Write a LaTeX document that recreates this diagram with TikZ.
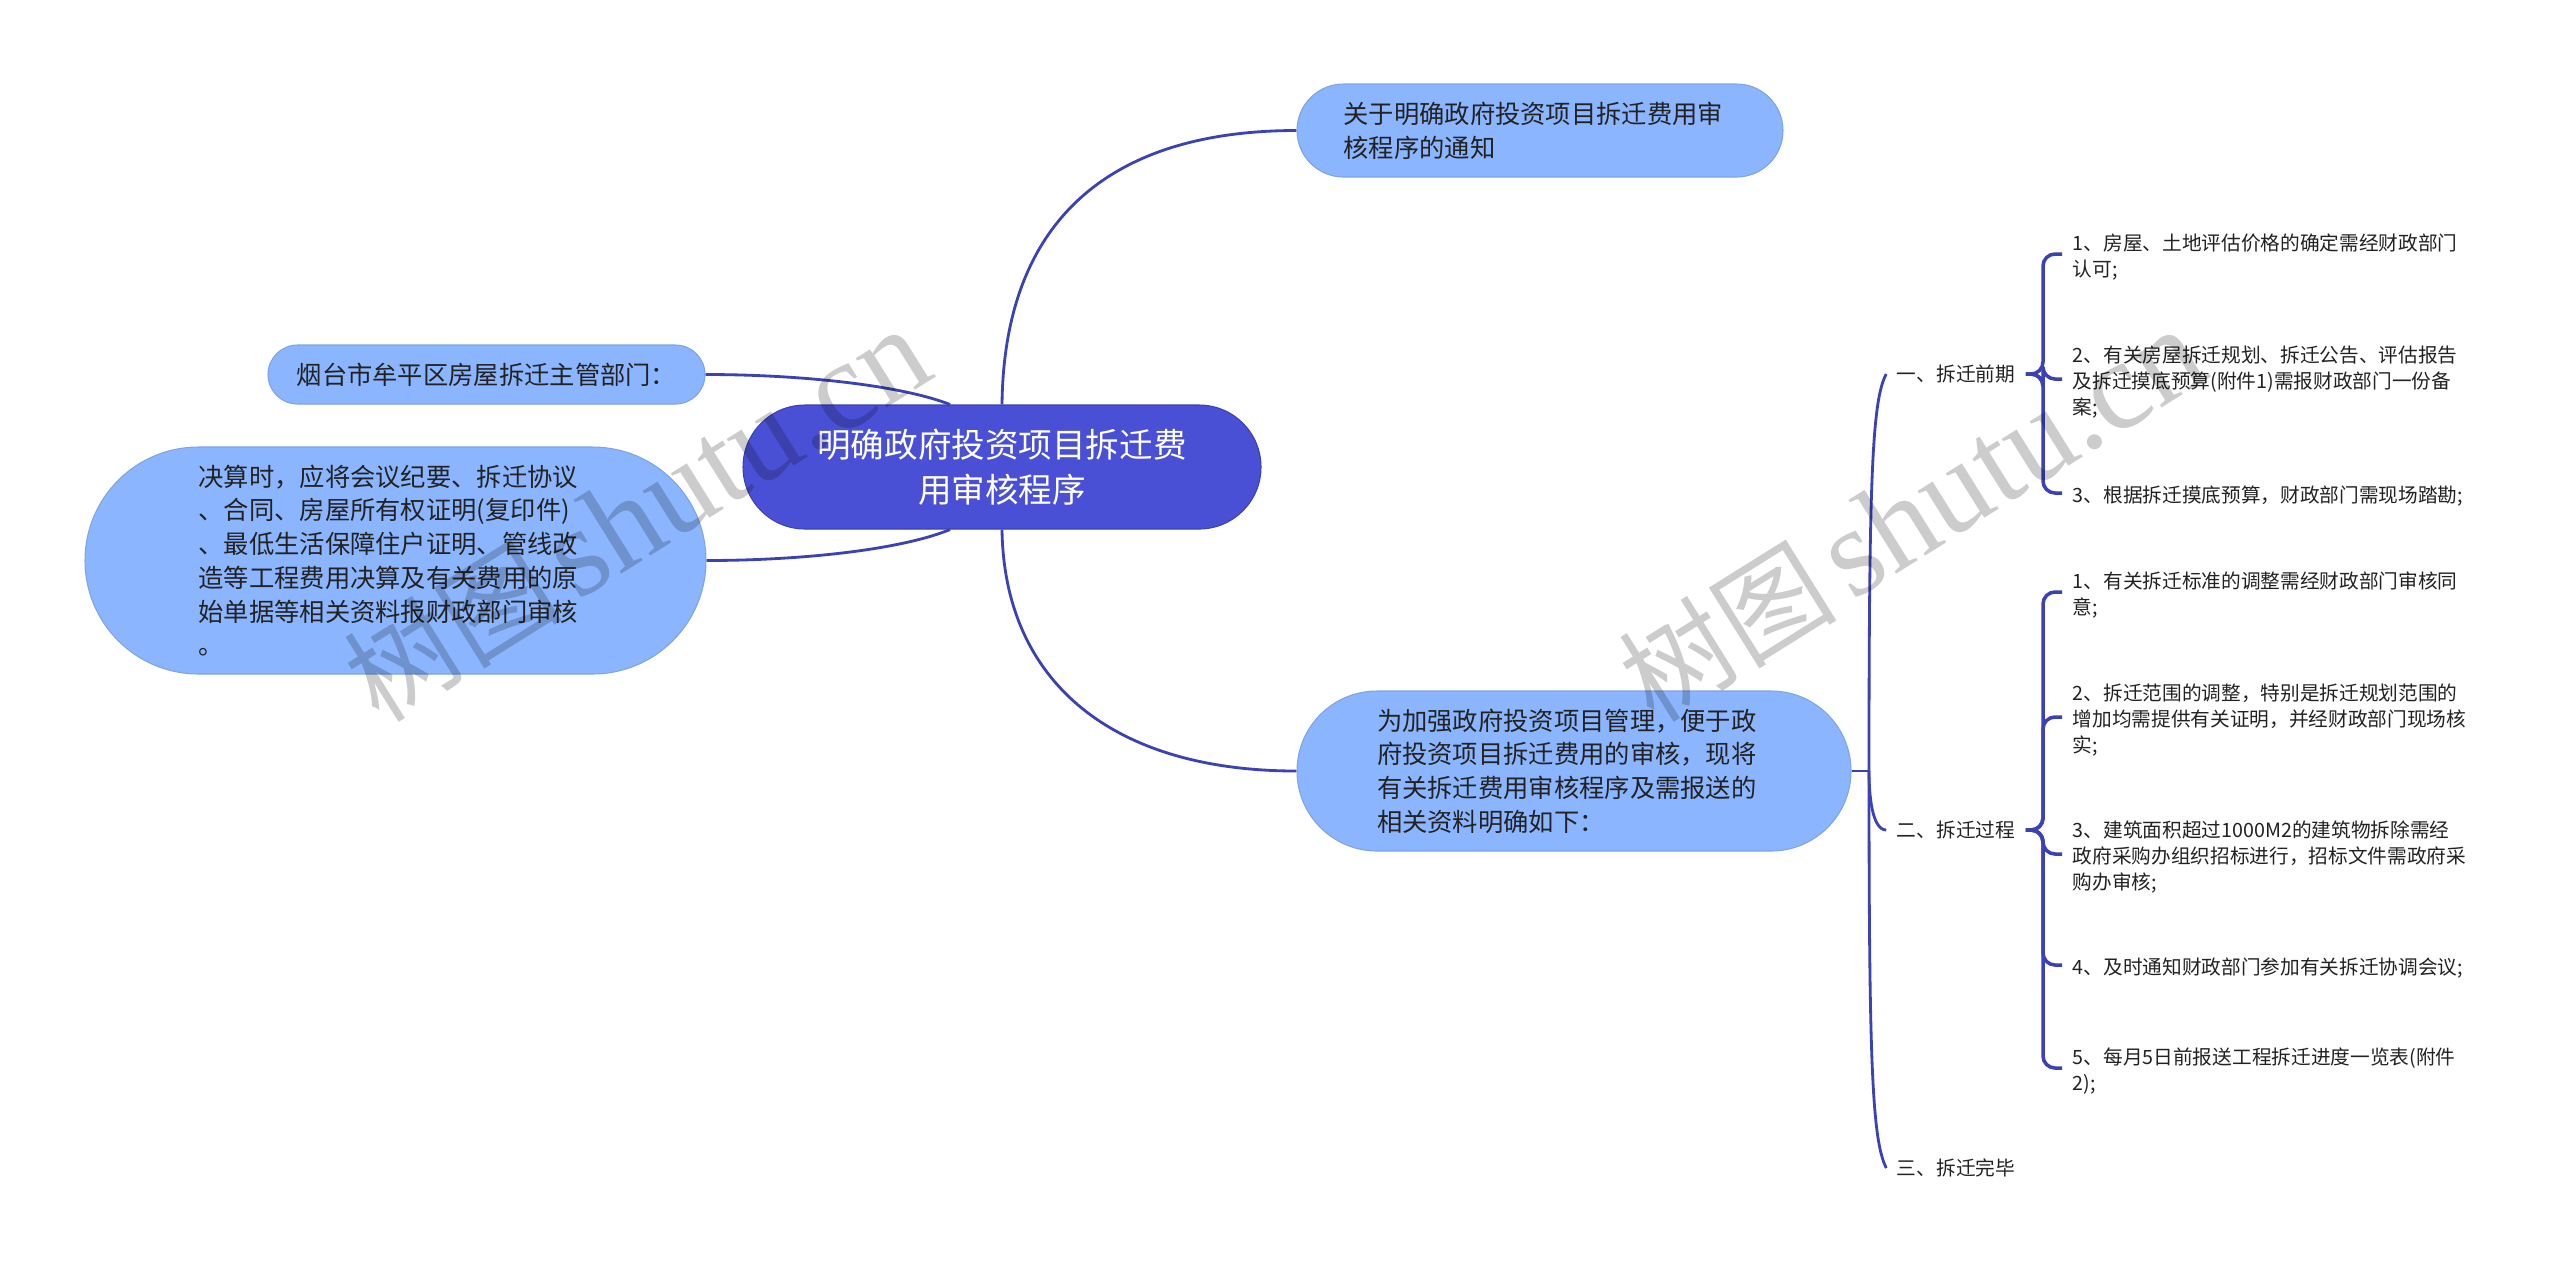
\documentclass[tikz,border=0pt]{standalone}
\usepackage{fontspec}
\setmainfont{Noto Sans CJK SC}
\newfontfamily\wmlatin{Liberation Serif}
\usetikzlibrary{calc}
\definecolor{rootblue}{HTML}{4A50D6}
\definecolor{topicblue}{HTML}{8BB6FF}
\definecolor{linkblue}{HTML}{3B42B4}
\definecolor{inktext}{HTML}{222222}
\tikzset{
	rootbox/.style={draw=linkblue, line width=0.3pt, fill=rootblue, text=white, align=center, font=\fontsize{9.55}{12.8}\selectfont},
	topicbox/.style={draw=topicblue!90!black, line width=0.3pt, fill=topicblue, text=inktext, font=\fontsize{7.2}{9.6}\selectfont},
	branchtext/.style={text=inktext, inner xsep=0.1cm, inner ysep=0pt, font=\fontsize{5.6}{7.3}\selectfont},
	leaftext/.style={anchor=west, text=inktext, align=left, text width=4.1cm, inner xsep=0.1cm, inner ysep=0pt, font=\fontsize{5.6}{7.3}\selectfont},
	link/.style={draw=linkblue, line width=0.8pt},
	forklink/.style={link, line width=1pt, rounded corners=0.12cm},
	watermark/.style={text=black, opacity=0.2, rotate=32, font=\fontsize{31}{31}\selectfont}
}
\newcommand{\markword}{树图\hspace{0.15cm}{\wmlatin\fontsize{36}{36}\selectfont shutu.cn}}

\begin{document}
\begin{tikzpicture}
	\useasboundingbox (0, 0) rectangle (25.6, -12.75);
	%%%%% BOXES %%%%%
	\node[rootbox, rounded corners=0.62cm, minimum width=5.18cm, minimum height=1.24cm] (root) at (10.02, -4.67) {明确政府投资项目拆迁费\\用审核程序};
	
	\node[topicbox, align=left, rounded corners=0.465cm, text width=3.93cm, inner xsep=0.465cm, minimum height=0.93cm] (notice) at (15.40, -1.305) {关于明确政府投资项目拆迁费用审\\核程序的通知};
	\node[topicbox, rounded corners=0.295cm, minimum width=4.37cm, minimum height=0.59cm] (dept) at (4.865, -3.745) {烟台市牟平区房屋拆迁主管部门：};
	\node[topicbox, align=left, rounded corners=1.135cm, text width=3.94cm, inner xsep=1.135cm, minimum height=2.27cm] (settle) at (3.955, -5.605) {决算时，应将会议纪要、拆迁协议\\、合同、房屋所有权证明(复印件)\\、最低生活保障住户证明、管线改\\造等工程费用决算及有关费用的原\\始单据等相关资料报财政部门审核\\。};
	\node[topicbox, align=left, rounded corners=0.8cm, text width=3.94cm, inner xsep=0.8cm, minimum height=1.6cm] (intro) at (15.74, -7.71) {为加强政府投资项目管理，便于政\\府投资项目拆迁费用的审核，现将\\有关拆迁费用审核程序及需报送的\\相关资料明确如下：};
	
	%%%%% RIGHT SIDE TEXTS %%%%%
	\node[branchtext] (early) at (19.56, -3.74) {一、拆迁前期};
	\node[branchtext] (during) at (19.56, -8.30) {二、拆迁过程};
	\node[branchtext] (after) at (19.56, -11.68) {三、拆迁完毕};
	
	\node[leaftext] (earlya) at (20.62, -2.57) {1、房屋、土地评估价格的确定需经财政部门\\认可;};
	\node[leaftext] (earlyb) at (20.62, -3.82) {2、有关房屋拆迁规划、拆迁公告、评估报告\\及拆迁摸底预算(附件1)需报财政部门一份备\\案;};
	\node[leaftext] (earlyc) at (20.62, -4.96) {3、根据拆迁摸底预算，财政部门需现场踏勘;};
	
	\node[leaftext] (duringa) at (20.62, -5.95) {1、有关拆迁标准的调整需经财政部门审核同\\意;};
	\node[leaftext] (duringb) at (20.62, -7.20) {2、拆迁范围的调整，特别是拆迁规划范围的\\增加均需提供有关证明，并经财政部门现场核\\实;};
	\node[leaftext] (duringc) at (20.62, -8.57) {3、建筑面积超过1000M2的建筑物拆除需经\\政府采购办组织招标进行，招标文件需政府采\\购办审核;};
	\node[leaftext] (duringd) at (20.62, -9.68) {4、及时通知财政部门参加有关拆迁协调会议;};
	\node[leaftext] (duringe) at (20.62, -10.71) {5、每月5日前报送工程拆迁进度一览表(附件\\2);};
	
	\coordinate (hub) at (18.69, -7.71);
	\coordinate (forkearly) at (20.43, -3.74);
	\coordinate (forkduring) at (20.43, -8.30);
	
	%%%%% LINKS %%%%%
	\draw[link] (root.north) .. controls (10.04, -2.2) and (11.1, -1.305) .. (notice.west);
	\draw[link] (root.south) .. controls (10.04, -6.8) and (11.1, -7.71) .. (intro.west);
	\draw[link] (dept.east) .. controls (8.0, -3.745) and (9.0, -3.85) .. ($(root.north)+(-0.52, 0)$);
	\draw[link] (settle.east) .. controls (8.0, -5.605) and (9.0, -5.5) .. ($(root.south)+(-0.52, 0)$);
	
	\draw[link] (intro.east) -- (hub);
	\draw[link] (hub) .. controls (18.69, -4.8) and (18.72, -4.0) .. (early.west);
	\draw[link] (hub) .. controls (18.69, -7.95) and (18.72, -8.30) .. (during.west);
	\draw[link] (hub) .. controls (18.69, -10.6) and (18.72, -11.4) .. (after.west);
	
	\draw[forklink] (early.east) -- (forkearly) |- ([yshift=0.03cm]earlya.west);
	\draw[forklink] (early.east) -- (forkearly) |- ([yshift=0.03cm]earlyb.west);
	\draw[forklink] (early.east) -- (forkearly) |- ([yshift=0.03cm]earlyc.west);
	
	\draw[forklink] (during.east) -- (forkduring) |- ([yshift=0.03cm]duringa.west);
	\draw[forklink] (during.east) -- (forkduring) |- ([yshift=0.03cm]duringb.west);
	\draw[forklink] (during.east) -- (forkduring) |- ([yshift=0.03cm]duringc.west);
	\draw[forklink] (during.east) -- (forkduring) |- ([yshift=0.03cm]duringd.west);
	\draw[forklink] (during.east) -- (forkduring) |- ([yshift=0.03cm]duringe.west);
	
	%%%%% WATERMARK %%%%%
	\node[watermark] (markleft) at (6.37, -5.15) {\markword};
	\node[watermark] (markright) at (19.12, -5.15) {\markword};
\end{tikzpicture}
\end{document}
